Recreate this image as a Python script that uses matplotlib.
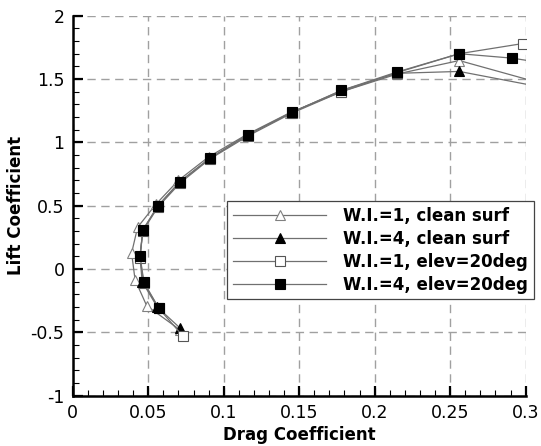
import matplotlib
matplotlib.use("Agg")
import matplotlib.pyplot as plt
from matplotlib.ticker import MultipleLocator

plt.rcParams['font.family'] = ['DejaVu Sans']

# W.I.=1, clean surf (open triangles)
cd_wi1_clean = [0.071, 0.049, 0.0413, 0.039, 0.043, 0.055, 0.070, 0.090, 0.115, 0.144, 0.178, 0.215, 0.256, 0.31]
cl_wi1_clean = [-0.48, -0.29, -0.085, 0.126, 0.33, 0.51, 0.70, 0.885, 1.06, 1.235, 1.40, 1.54, 1.646, 1.467]

# W.I.=4, clean surf (filled triangles)
cd_wi4_clean = [0.0711, 0.056, 0.046, 0.0445, 0.0465, 0.0565, 0.071, 0.091, 0.116, 0.145, 0.178, 0.2146, 0.256, 0.31]
cl_wi4_clean = [-0.466, -0.30, -0.10, 0.10, 0.31, 0.50, 0.69, 0.876, 1.06, 1.236, 1.41, 1.545, 1.56, 1.437]

# W.I.=1, elev=20deg (open squares)
cd_wi1_elev = [0.0728, 0.057, 0.047, 0.0446, 0.0464, 0.0565, 0.0712, 0.091, 0.116, 0.145, 0.178, 0.2146, 0.256, 0.298]
cl_wi1_elev = [-0.527, -0.31, -0.11, 0.09, 0.30, 0.49, 0.68, 0.87, 1.05, 1.23, 1.40, 1.55, 1.70, 1.78]

# W.I.=4, elev=20deg (filled squares)
cd_wi4_elev = [0.057, 0.0472, 0.0446, 0.0464, 0.0565, 0.071, 0.091, 0.116, 0.145, 0.178, 0.2146, 0.256, 0.291, 0.31]
cl_wi4_elev = [-0.308, -0.106, 0.10, 0.305, 0.50, 0.69, 0.876, 1.06, 1.236, 1.41, 1.555, 1.70, 1.665, 1.63]

fig = plt.figure(figsize=(5.41, 4.46), dpi=100)
ax = fig.add_axes([0.1344, 0.1128, 0.8373, 0.852])

line_kw = dict(lw=0.9, color='#707070', markersize=7, markeredgewidth=0.8)
ax.plot(cd_wi1_clean, cl_wi1_clean, marker='^', mfc='white', mec='#808080',
        label='W.I.=1, clean surf', **line_kw)
ax.plot(cd_wi4_clean, cl_wi4_clean, marker='^', mfc='black', mec='black',
        label='W.I.=4, clean surf', **line_kw)
ax.plot(cd_wi1_elev, cl_wi1_elev, marker='s', mfc='white', mec='#555555',
        label='W.I.=1, elev=20deg', **line_kw)
ax.plot(cd_wi4_elev, cl_wi4_elev, marker='s', mfc='black', mec='black',
        label='W.I.=4, elev=20deg', **line_kw)

ax.set_xlim(0, 0.3)
ax.set_ylim(-1, 2)
ax.xaxis.set_minor_locator(MultipleLocator(0.01))
ax.yaxis.set_minor_locator(MultipleLocator(0.1))
ax.set_xticks([0, 0.05, 0.1, 0.15, 0.2, 0.25, 0.3])
ax.set_xticklabels(['0', '0.05', '0.1', '0.15', '0.2', '0.25', '0.3'])
ax.set_yticks([-1, -0.5, 0, 0.5, 1, 1.5, 2])
ax.set_yticklabels(['-1', '-0.5', '0', '0.5', '1', '1.5', '2'])

ax.grid(True, which='major', color='#a0a0a0', linestyle=(0, (6, 4)), lw=1.0)
ax.set_axisbelow(True)
for s in ['top', 'right']:
    ax.spines[s].set_visible(False)
for s in ['left', 'bottom']:
    ax.spines[s].set_linewidth(1.8)

ax.tick_params(which='major', direction='in', length=7, width=1.6, labelsize=12.5, pad=6,
               top=False, right=False)
ax.tick_params(which='minor', direction='in', length=4.5, width=0.8, top=False, right=False)

ax.set_xlabel('Drag Coefficient', fontsize=12, fontweight='bold', labelpad=3)
ax.set_ylabel('Lift Coefficient', fontsize=12, fontweight='bold', labelpad=4)

leg = ax.legend(loc='upper left', bbox_to_anchor=(227 / 541, 1 - 200.7 / 446),
                bbox_transform=fig.transFigure,
                borderaxespad=0, fancybox=False, framealpha=1, edgecolor='#444444',
                handlelength=5.6, handletextpad=1.0, labelspacing=0.3,
                borderpad=0.35, prop={'size': 12, 'weight': 'bold'})
leg.get_frame().set_linewidth(0.9)

fig.savefig('out.png', dpi=100)
